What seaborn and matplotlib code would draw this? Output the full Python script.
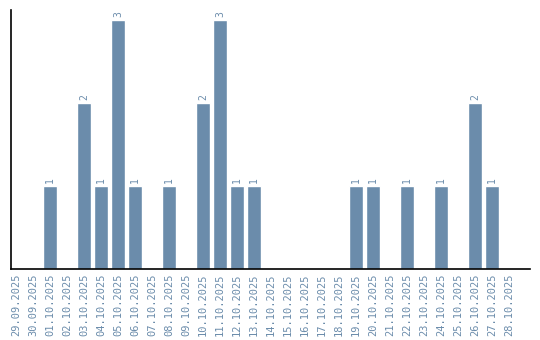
import matplotlib
matplotlib.use("Agg")
import matplotlib.pyplot as plt
import seaborn as sns
import pandas as pd

dates = ["29.09.2025", "30.09.2025", "01.10.2025", "02.10.2025", "03.10.2025",
         "04.10.2025", "05.10.2025", "06.10.2025", "07.10.2025", "08.10.2025",
         "09.10.2025", "10.10.2025", "11.10.2025", "12.10.2025", "13.10.2025",
         "14.10.2025", "15.10.2025", "16.10.2025", "17.10.2025", "18.10.2025",
         "19.10.2025", "20.10.2025", "21.10.2025", "22.10.2025", "23.10.2025",
         "24.10.2025", "25.10.2025", "26.10.2025", "27.10.2025", "28.10.2025"]
counts = [0, 0, 1, 0, 2, 1, 3, 1, 0, 1,
          0, 2, 3, 1, 1, 0, 0, 0, 0, 0,
          1, 1, 0, 1, 0, 1, 0, 2, 1, 0]

color = "#6b8cab"

sns.set_theme(style="white")
plt.rcParams["font.family"] = ["DejaVu Sans Mono"]

df = pd.DataFrame({"date": dates, "count": counts})

fig = plt.figure(figsize=(5.4, 3.4), dpi=100)
ax = fig.add_axes([11/540, 71/340, 519/540, 259/340])
sns.barplot(data=df, x="date", y="count", color=color, saturation=1,
            width=0.82, ax=ax)

for i, v in enumerate(counts):
    if v > 0:
        ax.text(i, v + 0.03, str(v), rotation=90, ha="center", va="bottom",
                fontsize=7, color=color)

ax.set_xlim(-0.294, 30.24)
ax.set_ylim(0, 3.12)
ax.set_yticks([])
ax.set_xlabel("")
ax.set_ylabel("")
ax.tick_params(axis="x", length=0, pad=3, labelsize=7.5, labelcolor=color,
               labelrotation=90)
for s in ["top", "right"]:
    ax.spines[s].set_visible(False)
for s in ["left", "bottom"]:
    ax.spines[s].set_color("black")
    ax.spines[s].set_linewidth(1.2)

fig.savefig("out.png", dpi=100)
